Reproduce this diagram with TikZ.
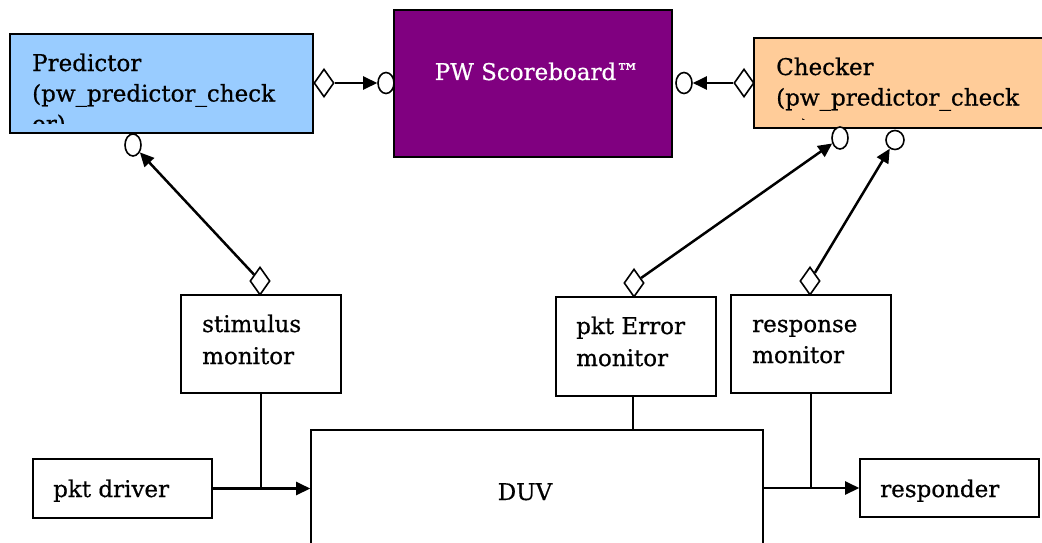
\documentclass[tikz,border=0pt]{standalone}
\usepackage{fontspec}
\setmainfont{DejaVu Serif}
\newfontfamily\dfont[FakeBold=0.6]{DejaVu Serif}
\usetikzlibrary{shapes.geometric,arrows.meta}
\definecolor{predblue}{HTML}{99CCFF}
\definecolor{sbpurple}{HTML}{800080}
\definecolor{chkorange}{HTML}{FFCC99}
\tikzset{
  box/.style={draw=black, line width=1.6pt, inner sep=0pt},
  txt/.style={anchor=base west, inner sep=0pt, align=left, font=\dfont\fontsize{23}{30.5}\selectfont},
  dmd/.style={diamond, draw=black, fill=white, line width=1.6pt, inner sep=0pt, minimum width=20pt, minimum height=28pt},
  port/.style={ellipse, draw=black, fill=white, line width=1.6pt, inner sep=0pt},
  conn/.style={line width=2.5pt, -{Triangle[length=14pt,width=13pt]}},
  wire/.style={line width=1.8pt}
}
\begin{document}
\begin{tikzpicture}[x=1pt,y=-1pt]
\clip (0,0) rectangle (1042,543);
\fill[white] (0,0) rectangle (1042,543);
% boxes
\node[box, fill=predblue, minimum width=303pt, minimum height=99pt] (pred) at (161.5,83.5) {};
\node[box, fill=sbpurple, minimum width=278pt, minimum height=147pt] (sb) at (533,83.5) {};
\node[box, fill=chkorange, minimum width=320pt, minimum height=90pt] (chk) at (914,83) {};
\node[box, minimum width=160pt, minimum height=98pt] (stim) at (261,344) {};
\node[box, minimum width=160pt, minimum height=99pt] (err) at (636,346.5) {};
\node[box, minimum width=160pt, minimum height=98pt] (resp) at (811,344) {};
\node[box, minimum width=179pt, minimum height=59pt] (drv) at (122.5,488.5) {};
\node[box, minimum width=452pt, minimum height=140pt] (duv) at (537,500) {};
\node[box, minimum width=179pt, minimum height=58pt] (rsp) at (949.5,488) {};
% texts (anchor = baseline of the last line)
\begin{scope}
\clip (10,34) rectangle (313,123.5);
\node[txt] (predtxt) at (32,132) {Predictor\\(pw\_predictor\_check\\er)};
\end{scope}
\begin{scope}
\clip (754,38) rectangle (1042,119.5);
\node[txt] (chktxt) at (776,136) {Checker\\(pw\_predictor\_check\\er)};
\end{scope}
\node[txt, text=white, anchor=base] (sbtxt) at (537,80) {PW Scoreboard™};
\node[txt, font=\dfont\fontsize{23}{32}\selectfont] (stimtxt) at (202,364) {stimulus\\monitor};
\node[txt, font=\dfont\fontsize{23}{32}\selectfont] (errtxt) at (576,366) {pkt Error\\monitor};
\node[txt, font=\dfont\fontsize{23}{31}\selectfont] (resptxt) at (752,363) {response\\monitor};
\node[txt] (drvtxt) at (53,497) {pkt driver};
\node[txt, anchor=base] (duvtxt) at (525,500) {DUV};
\node[txt] (rsptxt) at (880,497) {responder};
% ports
\node[dmd] (d1) at (324,83) {};
\node[port, minimum width=16pt, minimum height=21pt] (c1) at (386,83) {};
\node[dmd] (d2) at (744,83) {};
\node[port, minimum width=16pt, minimum height=21pt] (c2) at (684,83) {};
\node[port, minimum width=16pt, minimum height=22pt] (c3) at (133,145) {};
\node[port, minimum width=16pt, minimum height=22pt] (c4) at (840,138) {};
\node[port, minimum width=18pt, minimum height=19pt] (c5) at (895,140) {};
\node[dmd] (d3) at (260,281) {};
\node[dmd] (d4) at (634,283) {};
\node[dmd] (d5) at (810,281) {};
% connectors
\draw[conn] (d1) -- (c1);
\draw[conn] (d2) -- (c2);
\draw[conn] (d3) -- (c3);
\draw[conn] (d4) -- (c4);
\draw[conn] (d5) -- (c5);
\draw[conn] (drv.east) -- (drv.east -| duv.west);
\draw[conn] (duv.east |- rsp.west) -- (rsp.west);
\draw[wire] (stim.south) -- (stim.south |- drv.east);
\draw[wire] (resp.south) -- (resp.south |- rsp.west);
\draw[wire] (err.south -| 633,0) -- (duv.north -| 633,0);
\end{tikzpicture}
\end{document}
